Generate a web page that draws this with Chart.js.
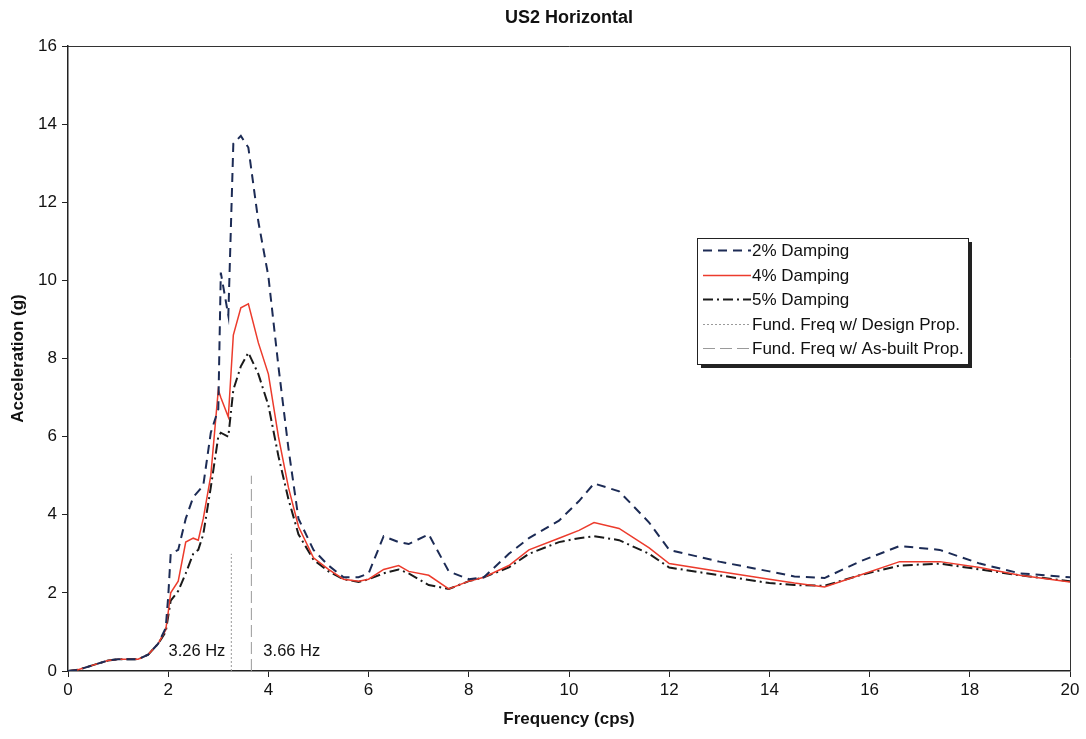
<!DOCTYPE html>
<html>
<head>
<meta charset="utf-8">
<script src="https://cdn.jsdelivr.net/npm/chart.js@4/dist/chart.umd.min.js"></script>
<style>
  html, body { margin: 0; padding: 0; background: #fff; }
  #wrap { width: 1086px; height: 739px; }
</style>
</head>
<body>
<div id="wrap"><canvas id="spectrumChart"></canvas></div>
<script>
// Response spectra
const freq = [0, 0.2, 0.5, 0.8, 1.0, 1.4, 1.6, 1.8, 1.95, 2.0, 2.05, 2.2, 2.35, 2.5, 2.6, 2.7, 2.85, 3.0, 3.05, 3.2, 3.3, 3.45, 3.6, 3.8, 4.0, 4.2, 4.4, 4.6, 4.9, 5.2, 5.5, 5.8, 6.0, 6.3, 6.6, 6.8, 7.2, 7.6, 8.0, 8.3, 8.8, 9.2, 9.8, 10.2, 10.5, 11.0, 11.6, 12.0, 13.0, 14.0, 14.5, 15.1, 15.8, 16.6, 17.4, 18.2, 19.0, 20];
const damp2 = [0, 0.03, 0.15, 0.27, 0.3, 0.3, 0.42, 0.7, 1.1, 1.9, 3.0, 3.1, 3.9, 4.45, 4.6, 4.75, 6.1, 6.7, 10.2, 9.1, 13.5, 13.7, 13.4, 11.5, 10.1, 7.8, 5.7, 3.9, 3.1, 2.7, 2.4, 2.4, 2.5, 3.45, 3.3, 3.25, 3.5, 2.55, 2.35, 2.4, 3.0, 3.4, 3.85, 4.35, 4.8, 4.6, 3.8, 3.1, 2.8, 2.55, 2.42, 2.38, 2.8, 3.2, 3.1, 2.75, 2.5, 2.4];
const damp4 = [0, 0.03, 0.15, 0.27, 0.3, 0.3, 0.42, 0.7, 1.05, 1.5, 2.0, 2.3, 3.3, 3.4, 3.35, 3.9, 5.0, 7.2, 7.0, 6.5, 8.6, 9.3, 9.4, 8.4, 7.6, 6.0, 4.7, 3.7, 2.9, 2.6, 2.35, 2.3, 2.35, 2.6, 2.7, 2.55, 2.45, 2.1, 2.3, 2.4, 2.7, 3.1, 3.4, 3.6, 3.8, 3.65, 3.15, 2.75, 2.55, 2.35, 2.25, 2.15, 2.45, 2.8, 2.8, 2.65, 2.45, 2.28];
const damp5 = [0, 0.03, 0.15, 0.27, 0.3, 0.3, 0.42, 0.7, 1.0, 1.4, 1.8, 2.05, 2.5, 3.0, 3.1, 3.5, 4.7, 6.0, 6.1, 6.0, 7.2, 7.8, 8.15, 7.6, 6.8, 5.5, 4.4, 3.5, 2.85, 2.55, 2.35, 2.28, 2.35, 2.5, 2.6, 2.5, 2.2, 2.1, 2.3, 2.4, 2.65, 3.0, 3.3, 3.4, 3.45, 3.35, 3.0, 2.65, 2.45, 2.25, 2.2, 2.18, 2.45, 2.7, 2.75, 2.6, 2.45, 2.3];

// fundamental frequency markers
const designFreq = 3.26;
const designTop = 3.0;
const asBuiltFreq = 3.66;
const asBuiltTop = 5.0;

const xTicks = [0, 2, 4, 6, 8, 10, 12, 14, 16, 18, 20];
const yTicks = [0, 2, 4, 6, 8, 10, 12, 14, 16];

function pts(ys) {
    return freq.map((f, i) => ({ x: f, y: ys[i] }));
}

const FONT = "'Liberation Sans', Arial, sans-serif";

// plot frame, title, Hz labels and the boxed legend
const decorations = {
    id: 'decorations',
    afterDatasetsDraw(chart) {
        const c = chart.ctx;
        const a = chart.chartArea;
        const xs = chart.scales.x, ys = chart.scales.y;
        c.save();

        // top and right frame
        c.strokeStyle = '#333';
        c.lineWidth = 1;
        c.beginPath();
        c.moveTo(a.left, a.top + 0.5);
        c.lineTo(a.right + 0.5, a.top + 0.5);
        c.lineTo(a.right + 0.5, a.bottom);
        c.stroke();

        c.fillStyle = '#111';
        c.font = 'bold 18px ' + FONT;
        c.textAlign = 'center';
        c.textBaseline = 'middle';
        c.fillText('US2 Horizontal', (a.left + a.right) / 2, 18);

        c.font = '16.5px ' + FONT;
        c.textAlign = 'right';
        c.fillText('3.26 Hz', xs.getPixelForValue(designFreq) - 6, ys.getPixelForValue(0.5));
        c.textAlign = 'left';
        c.fillText('3.66 Hz', xs.getPixelForValue(asBuiltFreq) + 12, ys.getPixelForValue(0.5));

        // legend
        const L = 697, T = 238, W = 271, H = 126;
        c.fillStyle = '#222';
        c.fillRect(L + 4, T + 4, W, H);
        c.fillStyle = '#fff';
        c.fillRect(L, T, W, H);
        c.strokeStyle = '#222';
        c.lineWidth = 1;
        c.strokeRect(L + 0.5, T + 0.5, W, H);

        const rows = [250, 275, 299, 324, 348];
        chart.data.datasets.forEach((ds, i) => {
            const y = T + rows[i] - 238 + 0.5;
            c.strokeStyle = ds.borderColor;
            c.lineWidth = ds.borderWidth;
            c.setLineDash(ds.borderDash || []);
            c.beginPath();
            c.moveTo(L + 6, y);
            c.lineTo(L + 54, y);
            c.stroke();
            c.setLineDash([]);
            c.fillStyle = '#111';
            c.font = '17px ' + FONT;
            c.textAlign = 'left';
            c.fillText(ds.label, L + 55, y + 1);
        });
        c.restore();
    }
};

const ctx = document.getElementById('spectrumChart').getContext('2d');

new Chart(ctx, {
    type: 'line',
    data: {
        datasets: [{
            label: '2% Damping',
            data: pts(damp2),
            borderColor: '#1c2b55',
            borderWidth: 2,
            borderDash: [9, 6],
            pointRadius: 0,
            tension: 0
        }, {
            label: '4% Damping',
            data: pts(damp4),
            borderColor: '#ec3b2c',
            borderWidth: 1.5,
            pointRadius: 0,
            tension: 0
        }, {
            label: '5% Damping',
            data: pts(damp5),
            borderColor: '#1a1a1a',
            borderWidth: 2,
            borderDash: [10, 4, 2, 4],
            pointRadius: 0,
            tension: 0
        }, {
            label: 'Fund. Freq w/ Design Prop.',
            data: [{ x: designFreq, y: 0 }, { x: designFreq, y: designTop }],
            borderColor: '#9a9a9a',
            borderWidth: 1,
            borderDash: [2, 2],
            pointRadius: 0
        }, {
            label: 'Fund. Freq w/ As-built Prop.',
            data: [{ x: asBuiltFreq, y: 0 }, { x: asBuiltFreq, y: asBuiltTop }],
            borderColor: '#9a9a9a',
            borderWidth: 1,
            borderDash: [12, 5],
            pointRadius: 0
        }]
    },
    options: {
        responsive: true,
        maintainAspectRatio: false,
        animation: false,
        layout: { padding: { top: 46, right: 16, bottom: 0, left: 0 } },
        plugins: {
            legend: { display: false },
            title: { display: false },
            tooltip: { enabled: false }
        },
        scales: {
            x: {
                type: 'linear',
                min: 0,
                max: 20,
                afterFit(s) { s.height = 68; },
                afterBuildTicks(s) { s.ticks = xTicks.map(v => ({ value: v })); },
                grid: { drawOnChartArea: false, tickLength: 6, color: '#222' },
                border: { color: '#222', width: 1.5 },
                ticks: { color: '#111', padding: 3, font: { family: FONT, size: 17 } },
                title: {
                    display: true,
                    text: 'Frequency (cps)',
                    color: '#111',
                    padding: { top: 0, bottom: 9 },
                    font: { family: FONT, size: 17, weight: 'bold' }
                }
            },
            y: {
                min: 0,
                max: 16,
                afterFit(s) { s.width = 68; },
                afterBuildTicks(s) { s.ticks = yTicks.map(v => ({ value: v })); },
                grid: { drawOnChartArea: false, tickLength: 6, color: '#222' },
                border: { color: '#222', width: 1.5 },
                ticks: { color: '#111', padding: 5, font: { family: FONT, size: 17 } },
                title: {
                    display: true,
                    text: 'Acceleration (g)',
                    color: '#111',
                    padding: { top: 8, bottom: 0 },
                    font: { family: FONT, size: 17, weight: 'bold' }
                }
            }
        }
    },
    plugins: [decorations]
});
</script>
</body>
</html>
